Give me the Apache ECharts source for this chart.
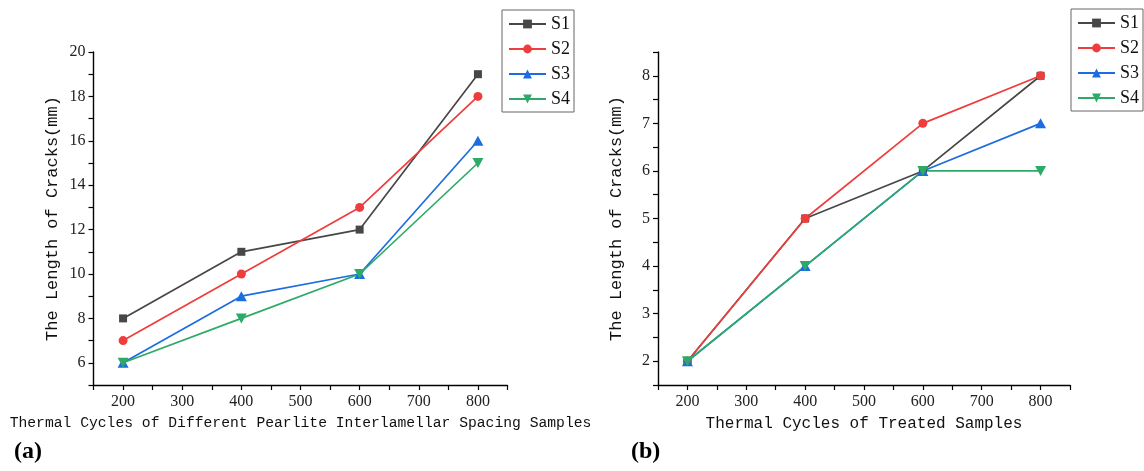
<!DOCTYPE html>
<html>
<head>
<meta charset="utf-8">
<script src="https://cdn.jsdelivr.net/npm/echarts@6/dist/echarts.min.js"></script>
<style>
html,body{margin:0;padding:0;background:#fff;}
#chart{width:1144px;height:471px;}
</style>
</head>
<body>
<div id="chart"></div>
<script>
// ---- data ----
const cycles = [200, 400, 600, 800];
const seriesNames = ['S1', 'S2', 'S3', 'S4'];
// (a) different pearlite interlamellar spacing samples
const aS1 = [8, 11, 12, 19];
const aS2 = [7, 10, 13, 18];
const aS3 = [6, 9, 10, 16];
const aS4 = [6, 8, 10, 15];
// (b) treated samples
const bS1 = [2, 5, 6, 8];
const bS2 = [2, 5, 7, 8];
const bS3 = [2, 4, 6, 7];
const bS4 = [2, 4, 6, 6];
// tick labels
const xTickLabels = [200, 300, 400, 500, 600, 700, 800];
const aYTickLabels = [6, 8, 10, 12, 14, 16, 18, 20];
const bYTickLabels = [2, 3, 4, 5, 6, 7, 8];
const aXTitle = 'Thermal Cycles of Different Pearlite Interlamellar Spacing Samples';
const bXTitle = 'Thermal Cycles of Treated Samples';
const yTitle = 'The Length of Cracks(mm)';

// ---- styles ----
const colors = ['#474747', '#ef3d3d', '#1c6ddf', '#2eaa68'];
const symbols = ['rect', 'circle', 'path://M5,0 L10,9 L0,9 Z', 'path://M0,0 L10,0 L5,9 Z'];
const symbolSizes = [8, 9, [11, 10], [11, 10]];
const serif = '"Liberation Serif", "Times New Roman", serif';
const mono = '"Liberation Mono", "Courier New", monospace';

function pairs(vals) { return cycles.map((c, i) => [c, vals[i]]); }

function xAxis(gridIndex, name, nameSize) {
  return {
    type: 'value', gridIndex, min: 150, max: 850, interval: 50,
    name, nameLocation: 'middle', nameGap: 31,
    nameTextStyle: { fontFamily: mono, fontSize: nameSize, color: '#111' },
    axisLine: { show: true, onZero: false, lineStyle: { color: '#000', width: 1.4 } },
    axisTick: { show: true, length: 5, lineStyle: { color: '#000', width: 1.2 } },
    axisLabel: { customValues: xTickLabels, fontFamily: serif, fontSize: 16, color: '#222', margin: 9 },
    splitLine: { show: false }
  };
}
function yAxis(gridIndex, min, max, interval, labels) {
  return {
    type: 'value', gridIndex, min, max, interval,
    name: yTitle, nameLocation: 'middle', nameGap: 33, nameRotate: 90,
    nameTextStyle: { fontFamily: mono, fontSize: 17, color: '#111' },
    axisLine: { show: true, onZero: false, lineStyle: { color: '#000', width: 1.4 } },
    axisTick: { show: true, length: 5, lineStyle: { color: '#000', width: 1.2 } },
    axisLabel: { customValues: labels, fontFamily: serif, fontSize: 16, color: '#222', margin: 8 },
    splitLine: { show: false }
  };
}
function makeSeries(idx, arrays) {
  return arrays.map((vals, i) => ({
    name: seriesNames[i], type: 'line', xAxisIndex: idx, yAxisIndex: idx,
    data: pairs(vals), symbol: symbols[i], symbolSize: symbolSizes[i],
    showAllSymbol: true, animation: false,
    lineStyle: { color: colors[i], width: 1.7 },
    itemStyle: { color: colors[i] }
  }));
}
function legend(left, top) {
  return {
    data: seriesNames, left, top, orient: 'vertical',
    itemWidth: 37, itemHeight: 11, itemGap: 7,
    padding: [5, 4, 4, 6],
    borderColor: '#666', borderWidth: 1,
    textStyle: { fontFamily: serif, fontSize: 18, color: '#111', lineHeight: 14 }
  };
}

const chart = echarts.init(document.getElementById('chart'));
chart.setOption({
  animation: false,
  backgroundColor: '#fff',
  color: colors,
  grid: [
    { left: 93.5, top: 52, width: 414, height: 333, containLabel: false },
    { left: 658, top: 52, width: 412, height: 333, containLabel: false }
  ],
  xAxis: [xAxis(0, aXTitle, 14.7), xAxis(1, bXTitle, 16)],
  yAxis: [yAxis(0, 5, 20, 1, aYTickLabels), yAxis(1, 1.5, 8.5, 0.5, bYTickLabels)],
  legend: [legend(502, 10), legend(1071, 9)],
  graphic: [
    { type: 'text', left: 14, top: 440, style: { text: '(a)', font: 'bold 24px ' + serif, fill: '#000' } },
    { type: 'text', left: 631, top: 440, style: { text: '(b)', font: 'bold 24px ' + serif, fill: '#000' } }
  ],
  series: makeSeries(0, [aS1, aS2, aS3, aS4]).concat(makeSeries(1, [bS1, bS2, bS3, bS4]))
});
</script>
</body>
</html>
